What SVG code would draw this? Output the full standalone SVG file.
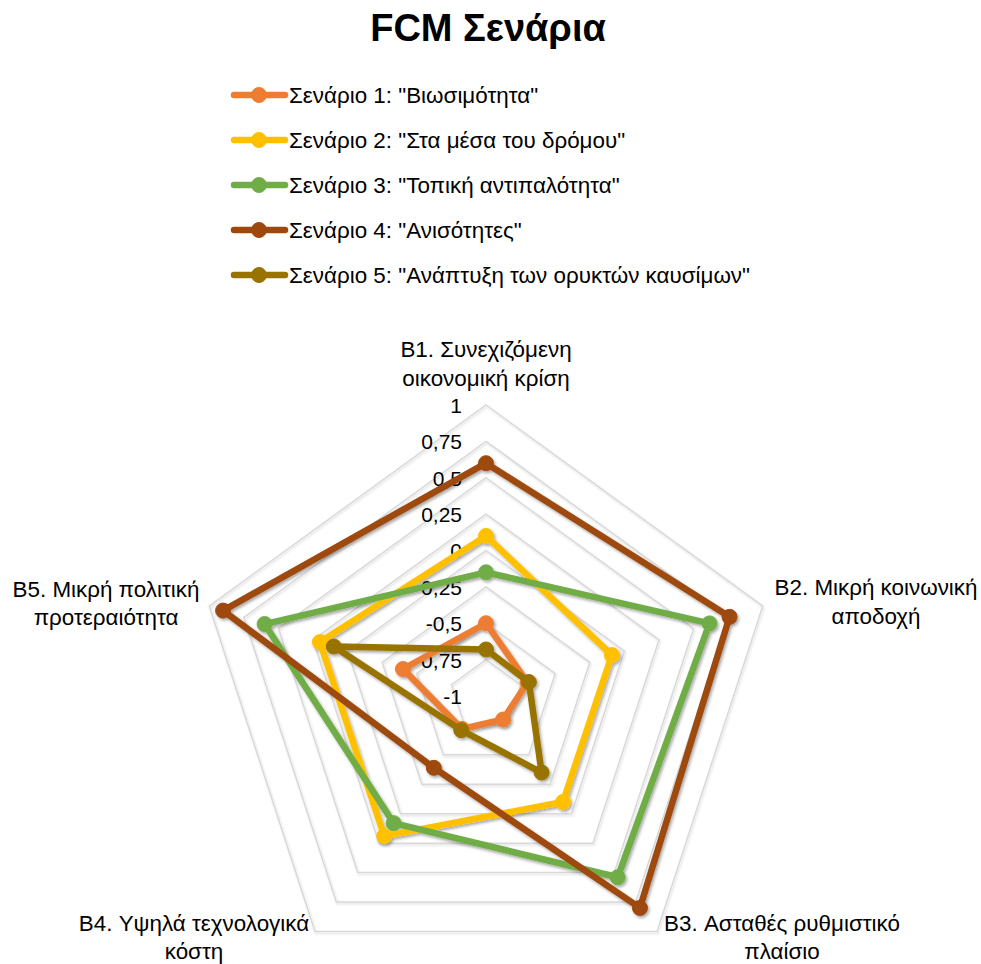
<svg xmlns="http://www.w3.org/2000/svg" width="981" height="964" viewBox="0 0 981 964">
  <style>
    text { font-family: "Liberation Sans", Arial, sans-serif; fill: #000; }
    .title { font-size: 38px; font-weight: bold; text-anchor: middle; }
    .leg { font-size: 22.4px; }
    .tick { font-size: 21px; text-anchor: end; }
    .axis { font-size: 22.4px; text-anchor: middle; }
    .grid polygon { fill: none; stroke: #D9D9D9; stroke-width: 1.5; }
    .series polyline, .legline { fill: none; stroke-width: 6.5; stroke-linejoin: round; stroke-linecap: round; }
    .s1 { stroke: #ED7D31; fill: #ED7D31; }
    .s2 { stroke: #FFC000; fill: #FFC000; }
    .s3 { stroke: #70AD47; fill: #70AD47; }
    .s4 { stroke: #9E480E; fill: #9E480E; }
    .s5 { stroke: #997300; fill: #997300; }
    circle { stroke: none; }
  </style>
  <defs>
    <filter id="shadow" x="-10%" y="-10%" width="130%" height="130%">
      <feDropShadow dx="1.5" dy="2" stdDeviation="1.5" flood-color="#000" flood-opacity="0.35"/>
    </filter>
    <filter id="gridShadow" x="-10%" y="-10%" width="130%" height="130%">
      <feDropShadow dx="1" dy="1.5" stdDeviation="1" flood-color="#000" flood-opacity="0.15"/>
    </filter>
  </defs>

  <text class="title" x="488" y="41">FCM Σενάρια</text>

  <!-- legend -->
  <g id="legend">
    <g id="legend-s1">
      <line class="legline s1" x1="234" y1="95" x2="285" y2="95"/>
      <circle class="s1" cx="259" cy="95" r="7.5"/>
      <text class="leg" x="289" y="103">Σενάριο 1: "Βιωσιμότητα"</text>
    </g>
    <g id="legend-s2">
      <line class="legline s2" x1="234" y1="140" x2="285" y2="140"/>
      <circle class="s2" cx="259" cy="140" r="7.5"/>
      <text class="leg" x="289" y="148">Σενάριο 2: "Στα μέσα του δρόμου"</text>
    </g>
    <g id="legend-s3">
      <line class="legline s3" x1="234" y1="185" x2="285" y2="185"/>
      <circle class="s3" cx="259" cy="185" r="7.5"/>
      <text class="leg" x="289" y="193">Σενάριο 3: "Τοπική αντιπαλότητα"</text>
    </g>
    <g id="legend-s4">
      <line class="legline s4" x1="234" y1="230" x2="285" y2="230"/>
      <circle class="s4" cx="259" cy="230" r="7.5"/>
      <text class="leg" x="289" y="238">Σενάριο 4: "Ανισότητες"</text>
    </g>
    <g id="legend-s5">
      <line class="legline s5" x1="234" y1="275" x2="285" y2="275"/>
      <circle class="s5" cx="259" cy="275" r="7.5"/>
      <text class="leg" x="289" y="283">Σενάριο 5: "Ανάπτυξη των ορυκτών καυσίμων"</text>
    </g>
  </g>

  <!-- radar grid: centre (486,696), value -1 at centre, 1 at radius 291 -->
  <g id="grid" class="grid" filter="url(#gridShadow)">
    <polygon points="486,659.63 520.59,684.76 507.38,725.43 464.62,725.43 451.41,684.76"/>
    <polygon points="486,623.25 555.19,673.52 528.76,754.86 443.24,754.86 416.81,673.52"/>
    <polygon points="486,586.88 589.78,662.28 550.14,784.28 421.86,784.28 382.22,662.28"/>
    <polygon points="486,550.5 624.38,651.04 571.52,813.71 400.48,813.71 347.62,651.04"/>
    <polygon points="486,514.13 658.97,639.8 592.9,843.14 379.1,843.14 313.03,639.8"/>
    <polygon points="486,477.75 693.57,628.56 614.28,872.57 357.72,872.57 278.43,628.56"/>
    <polygon points="486,441.38 728.16,617.32 635.67,902 336.33,902 243.84,617.32"/>
    <polygon points="486,405 762.76,606.08 657.05,931.42 314.95,931.42 209.24,606.08"/>
  </g>

  <!-- value scale -->
  <g id="ticks">
    <text class="tick" x="462" y="412.5">1</text>
    <text class="tick" x="462" y="448.5">0,75</text>
    <text class="tick" x="462" y="485.5">0,5</text>
    <text class="tick" x="462" y="521.5">0,25</text>
    <text class="tick" x="462" y="557.5">0</text>
    <text class="tick" x="462" y="594.5">-0,25</text>
    <text class="tick" x="462" y="630.5">-0,5</text>
    <text class="tick" x="462" y="667.5">-0,75</text>
    <text class="tick" x="462" y="703.5">-1</text>
  </g>

  <!-- category labels -->
  <g id="axis-b1"><text class="axis" x="486" y="357">B1. Συνεχιζόμενη</text><text class="axis" x="486" y="386">οικονομική κρίση</text></g>
  <g id="axis-b2"><text class="axis" x="876" y="595">B2. Μικρή κοινωνική</text><text class="axis" x="876" y="624">αποδοχή</text></g>
  <g id="axis-b3"><text class="axis" x="782" y="931">B3. Ασταθές ρυθμιστικό</text><text class="axis" x="782" y="959">πλαίσιο</text></g>
  <g id="axis-b4"><text class="axis" x="194" y="931">B4. Υψηλά τεχνολογικά</text><text class="axis" x="194" y="959">κόστη</text></g>
  <g id="axis-b5"><text class="axis" x="106" y="597">B5. Μικρή πολιτική</text><text class="axis" x="106" y="625">προτεραιότητα</text></g>

  <!-- data series -->
  <g id="connectors" class="series" filter="url(#shadow)">
    <g id="series-1">
      <polyline class="s1" style="fill:none" points="486,623.25 527.51,682.51 503.1,719.54 462.05,728.96 402.97,669.02 486,623.25"/>
      <circle class="s1" cx="486" cy="623.25" r="7.5"/>
      <circle class="s1" cx="527.51" cy="682.51" r="7.5"/>
      <circle class="s1" cx="503.1" cy="719.54" r="7.5"/>
      <circle class="s1" cx="462.05" cy="728.96" r="7.5"/>
      <circle class="s1" cx="402.97" cy="669.02" r="7.5"/>
    </g>
    <g id="series-2">
      <polyline class="s2" style="fill:none" points="486,535.95 611.92,655.09 562.97,801.94 384.22,836.08 319.95,642.05 486,535.95"/>
      <circle class="s2" cx="486" cy="535.95" r="7.5"/>
      <circle class="s2" cx="611.92" cy="655.09" r="7.5"/>
      <circle class="s2" cx="562.97" cy="801.94" r="7.5"/>
      <circle class="s2" cx="384.22" cy="836.08" r="7.5"/>
      <circle class="s2" cx="319.95" cy="642.05" r="7.5"/>
    </g>
    <g id="series-3">
      <polyline class="s3" style="fill:none" points="486,572.32 709.5,623.38 617.71,877.28 393.63,823.13 264.6,624.06 486,572.32"/>
      <circle class="s3" cx="486" cy="572.32" r="7.5"/>
      <circle class="s3" cx="709.5" cy="623.38" r="7.5"/>
      <circle class="s3" cx="617.71" cy="877.28" r="7.5"/>
      <circle class="s3" cx="393.63" cy="823.13" r="7.5"/>
      <circle class="s3" cx="264.6" cy="624.06" r="7.5"/>
    </g>
    <g id="series-4">
      <polyline class="s4" style="fill:none" points="486,463.2 729.55,616.87 639.94,907.88 433.83,767.81 223.08,610.57 486,463.2"/>
      <circle class="s4" cx="486" cy="463.2" r="7.5"/>
      <circle class="s4" cx="729.55" cy="616.87" r="7.5"/>
      <circle class="s4" cx="639.94" cy="907.88" r="7.5"/>
      <circle class="s4" cx="433.83" cy="767.81" r="7.5"/>
      <circle class="s4" cx="223.08" cy="610.57" r="7.5"/>
    </g>
    <g id="series-5">
      <polyline class="s5" style="fill:none" points="486,649.44 528.89,682.06 541.59,772.52 461.2,730.14 333.78,646.54 486,649.44"/>
      <circle class="s5" cx="486" cy="649.44" r="7.5"/>
      <circle class="s5" cx="528.89" cy="682.06" r="7.5"/>
      <circle class="s5" cx="541.59" cy="772.52" r="7.5"/>
      <circle class="s5" cx="461.2" cy="730.14" r="7.5"/>
      <circle class="s5" cx="333.78" cy="646.54" r="7.5"/>
    </g>
  </g>
</svg>
